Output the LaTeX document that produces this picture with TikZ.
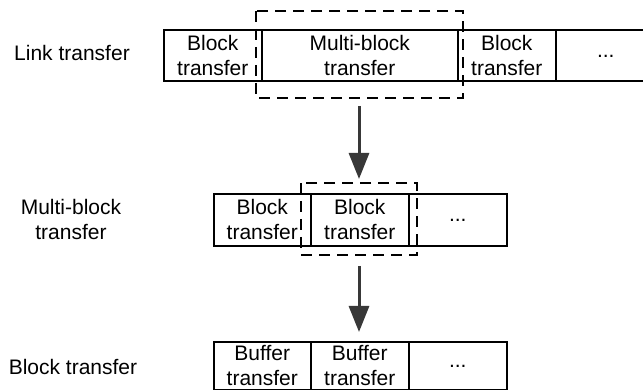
\documentclass[tikz,border=0pt]{standalone}
\usepackage{fontspec}
\setmainfont{Liberation Sans}
\usetikzlibrary{arrows.meta}
\begin{document}
\begin{tikzpicture}[x=1pt,y=-1pt,
  cell/.style={draw=black,line width=1.6pt,rectangle,inner sep=0pt,anchor=north west,align=center,font=\fontsize{21}{25}\selectfont},
  lbl/.style={align=center,font=\fontsize{21}{25}\selectfont},
  dbox/.style={draw=black,line width=1.6pt,dash pattern=on 11pt off 7pt},
  bigarrow/.style={draw=black!78,line width=3pt,-{Triangle[width=20pt,length=26pt]}}]
\useasboundingbox (0,0) rectangle (643,390);
\begin{scope}
\clip (0,0) rectangle (643,390);
% row 1
\node[cell,minimum width=98pt,minimum height=51pt] (a1) at (163,29) {Block\\transfer};
\node[cell,minimum width=196pt,minimum height=51pt] (a2) at (261,29) {Multi-block\\transfer};
\node[cell,minimum width=98pt,minimum height=51pt] (a3) at (457,29) {Block\\transfer};
\node[cell,minimum width=100pt,minimum height=51pt,text width=88pt] (a4) at (555,29) {\raisebox{-4pt}{...}};
% row 2
\node[cell,minimum width=97pt,minimum height=52pt] (b1) at (213,193) {Block\\transfer};
\node[cell,minimum width=98pt,minimum height=52pt] (b2) at (310,193) {Block\\transfer};
\node[cell,minimum width=98pt,minimum height=52pt] (b3) at (408,193) {\raisebox{-4pt}{...}};
% row 3
\node[cell,minimum width=97pt,minimum height=48pt] (c1) at (213,341) {Buffer\\transfer};
\node[cell,minimum width=98pt,minimum height=48pt] (c2) at (310,341) {Buffer\\transfer};
\node[cell,minimum width=98pt,minimum height=48pt] (c3) at (408,341) {\raisebox{-4pt}{...}};
\end{scope}
% dashed groups
\draw[dbox] (256,11) rectangle (463,98);
\draw[dbox] (301,183) rectangle (417,255);
\coordinate (d1) at (359,98);
\coordinate (d2) at (359,183);
\coordinate (d3) at (359,255);
\coordinate (d4) at (359,341);
% arrows
\draw[bigarrow] ([yshift=-8pt]d1) -- ([yshift=4pt]d2);
\draw[bigarrow] ([yshift=-11pt]d3) -- ([yshift=9pt]d4);
% labels
\node[lbl] (l1) at (72,53) {Link transfer};
\node[lbl] (l2) at (71,219) {Multi-block\\transfer};
\node[lbl] (l3) at (73,367) {Block transfer};
\end{tikzpicture}
\end{document}
